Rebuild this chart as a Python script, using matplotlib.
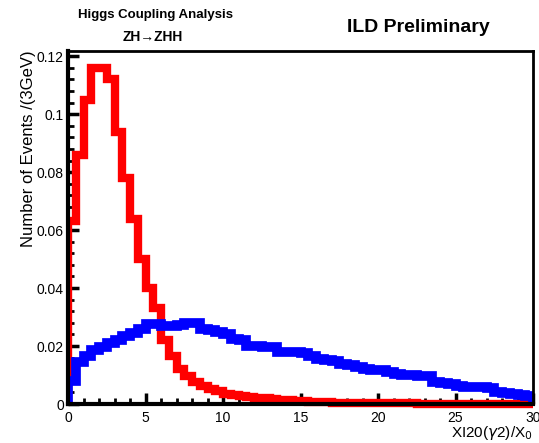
import numpy as np
import matplotlib
matplotlib.use("Agg")
import matplotlib.pyplot as plt
from matplotlib.patches import Rectangle
from matplotlib.ticker import MultipleLocator, AutoMinorLocator, FuncFormatter

plt.rcParams['font.family'] = ['Liberation Sans', 'DejaVu Sans']

# histogram binning: 60 bins of 0.5 from 0 to 30
bin_edges = np.linspace(0, 30, 61)

# ZH -> ZHH signal-like sample (red)
red_values = [0.063, 0.086, 0.105, 0.116, 0.116, 0.112, 0.094, 0.078, 0.064, 0.050,
              0.040, 0.033, 0.022, 0.0165, 0.012, 0.0095, 0.0075, 0.0062, 0.0052, 0.0044,
              0.0036, 0.0031, 0.0028, 0.0025, 0.0022, 0.0019, 0.0017, 0.0015, 0.0013, 0.0011,
              0.0009, 0.0008, 0.0007, 0.0006, 0.0005, 0.0005, 0.0004, 0.0004, 0.0003, 0.0003,
              0.0003, 0.0002, 0.0002, 0.0002, 0.0002, 0.0001, 0.0001, 0.0001, 0.0001, 0.0001,
              0.0001, 0.0001, 0.0001, 0.0001, 0.0001, 0.0, 0.0001, 0.0, 0.0, 0.0]

# second sample (blue)
blue_values = [0.008, 0.0145, 0.0165, 0.0185, 0.0195, 0.021, 0.022, 0.0235, 0.0245, 0.026,
               0.0275, 0.0275, 0.027, 0.0268, 0.0272, 0.028, 0.028, 0.0258, 0.0255, 0.025,
               0.0242, 0.0225, 0.022, 0.020, 0.020, 0.0198, 0.0196, 0.018, 0.018, 0.0178,
               0.0176, 0.0165, 0.0155, 0.0152, 0.015, 0.0137, 0.0135, 0.0128, 0.012, 0.0118,
               0.0117, 0.0112, 0.0102, 0.010, 0.010, 0.0098, 0.0096, 0.0075, 0.0072, 0.007,
               0.0062, 0.006, 0.006, 0.0058, 0.0055, 0.004, 0.0038, 0.0036, 0.003, 0.0028]

fig = plt.figure(figsize=(5.39, 4.43), dpi=100)
ax = fig.add_axes([68 / 539, 39 / 443, 465 / 539, 353 / 443])

# clip inside the frame but let the thick lines spill a little below the x axis
clip = Rectangle((0, -0.03), 1, 1.05, transform=ax.transAxes, visible=False)
ax.add_patch(clip)

r = ax.stairs(red_values, bin_edges, baseline=0, color='#ff0000', linewidth=6, zorder=2)
b = ax.stairs(blue_values, bin_edges, baseline=0, color='#0000ff', linewidth=7, zorder=2.1)
r.set_clip_path(clip)
b.set_clip_path(clip)

ax.set_xlim(0, 30)
ax.set_ylim(0, 0.1218)

ax.xaxis.set_major_locator(MultipleLocator(5))
ax.xaxis.set_minor_locator(AutoMinorLocator(5))
ax.yaxis.set_major_locator(MultipleLocator(0.02))
ax.yaxis.set_minor_locator(AutoMinorLocator(5))
ax.yaxis.set_major_formatter(FuncFormatter(lambda v, p: f"{v:g}"))

ax.tick_params(which='both', direction='in', top=False, right=False, colors='black', labelsize=10)
ax.tick_params(which='major', length=8, width=2.5)
ax.tick_params(which='minor', length=4, width=2)
ax.tick_params(axis='x', pad=5)
ax.tick_params(axis='y', pad=3)

for side in ['left', 'bottom']:
    ax.spines[side].set_linewidth(3)
for side in ['top', 'right']:
    ax.spines[side].set_linewidth(2)
for s in ax.spines.values():
    s.set_zorder(3)

fig.text(29 / 539, 1 - 50 / 443, "Number of Events /(3GeV)", rotation=90,
         ha='center', va='top', fontsize=12)
fig.text(533 / 539, 1 - 433 / 443, r"XI20($\gamma$2)/X$_{0}$", ha='right', va='center', fontsize=11)

fig.text(155 / 539, 1 - 15 / 443, "Higgs Coupling Analysis", ha='center', va='center',
         fontsize=9.5, fontweight='bold')
fig.text(153 / 539, 1 - 37 / 443, "ZH\u2192ZHH", ha='center', va='center',
         fontsize=10, fontweight='bold', family=['Liberation Sans', 'DejaVu Sans'])
fig.text(418 / 539, 1 - 27 / 443, "ILD Preliminary", ha='center', va='center',
         fontsize=14, fontweight='bold')

fig.savefig("out.png", dpi=100)
